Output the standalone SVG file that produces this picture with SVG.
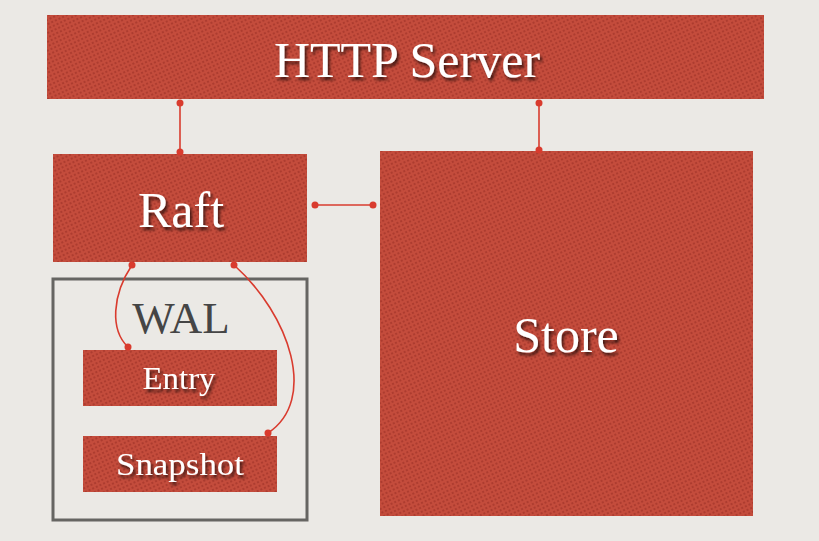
<svg xmlns="http://www.w3.org/2000/svg" width="819" height="541" viewBox="0 0 819 541">
  <defs>
    <pattern id="dots" width="4" height="4" patternUnits="userSpaceOnUse" patternTransform="rotate(-25)">
      <rect width="4" height="4" fill="#c44c3c"/>
      <circle cx="2" cy="2" r="1.1" fill="#a8382c"/>
    </pattern>
    <filter id="shadow" x="-20%" y="-20%" width="150%" height="160%">
      <feDropShadow dx="2" dy="3" stdDeviation="1.5" flood-color="#000" flood-opacity="0.65"/>
    </filter>
    <marker id="dot" markerWidth="8" markerHeight="8" refX="4" refY="4" markerUnits="userSpaceOnUse">
      <circle cx="4" cy="4" r="3.5" fill="#d93b2e"/>
    </marker>
  </defs>
  <style>
    .box { fill: url(#dots); }
    .lbl { font-family: "Liberation Serif", "DejaVu Serif", serif; fill: #ffffff; text-anchor: middle; filter: url(#shadow); }
    .conn { fill: none; stroke: #d93b2e; stroke-width: 1.6; marker-start: url(#dot); marker-end: url(#dot); }
  </style>
  <rect width="819" height="541" fill="#ebe9e5"/>

  <g id="http-server">
    <rect class="box" x="47" y="15" width="717" height="84"/>
    <text class="lbl" x="407" y="77" font-size="50">HTTP Server</text>
  </g>
  <g id="raft">
    <rect class="box" x="53" y="154" width="254" height="108"/>
    <text class="lbl" x="181" y="227" font-size="50">Raft</text>
  </g>
  <g id="store">
    <rect class="box" x="380" y="151" width="373" height="365"/>
    <text class="lbl" x="566" y="352" font-size="50">Store</text>
  </g>
  <g id="wal">
    <rect x="53" y="279" width="254" height="241" fill="none" stroke="#666562" stroke-width="3"/>
    <text x="181" y="333" font-size="45" font-family="Liberation Serif, DejaVu Serif, serif" fill="#454545" text-anchor="middle">WAL</text>
  </g>
  <g id="entry">
    <rect class="box" x="83" y="350" width="194" height="56"/>
    <text class="lbl" x="179" y="389" font-size="31" textLength="73" lengthAdjust="spacingAndGlyphs">Entry</text>
  </g>
  <g id="snapshot">
    <rect class="box" x="83" y="436" width="194" height="56"/>
    <text class="lbl" x="180" y="475" font-size="31" textLength="128" lengthAdjust="spacingAndGlyphs">Snapshot</text>
  </g>

  <g id="connectors">
    <path class="conn" d="M180,103 L180,152"/>
    <path class="conn" d="M539,103 L539,150"/>
    <path class="conn" d="M315,205 L373,205"/>
    <path class="conn" d="M132,265 C112,295 110,330 128,347"/>
    <path class="conn" d="M234,265 C290,315 318,400 268,433"/>
  </g>
</svg>
